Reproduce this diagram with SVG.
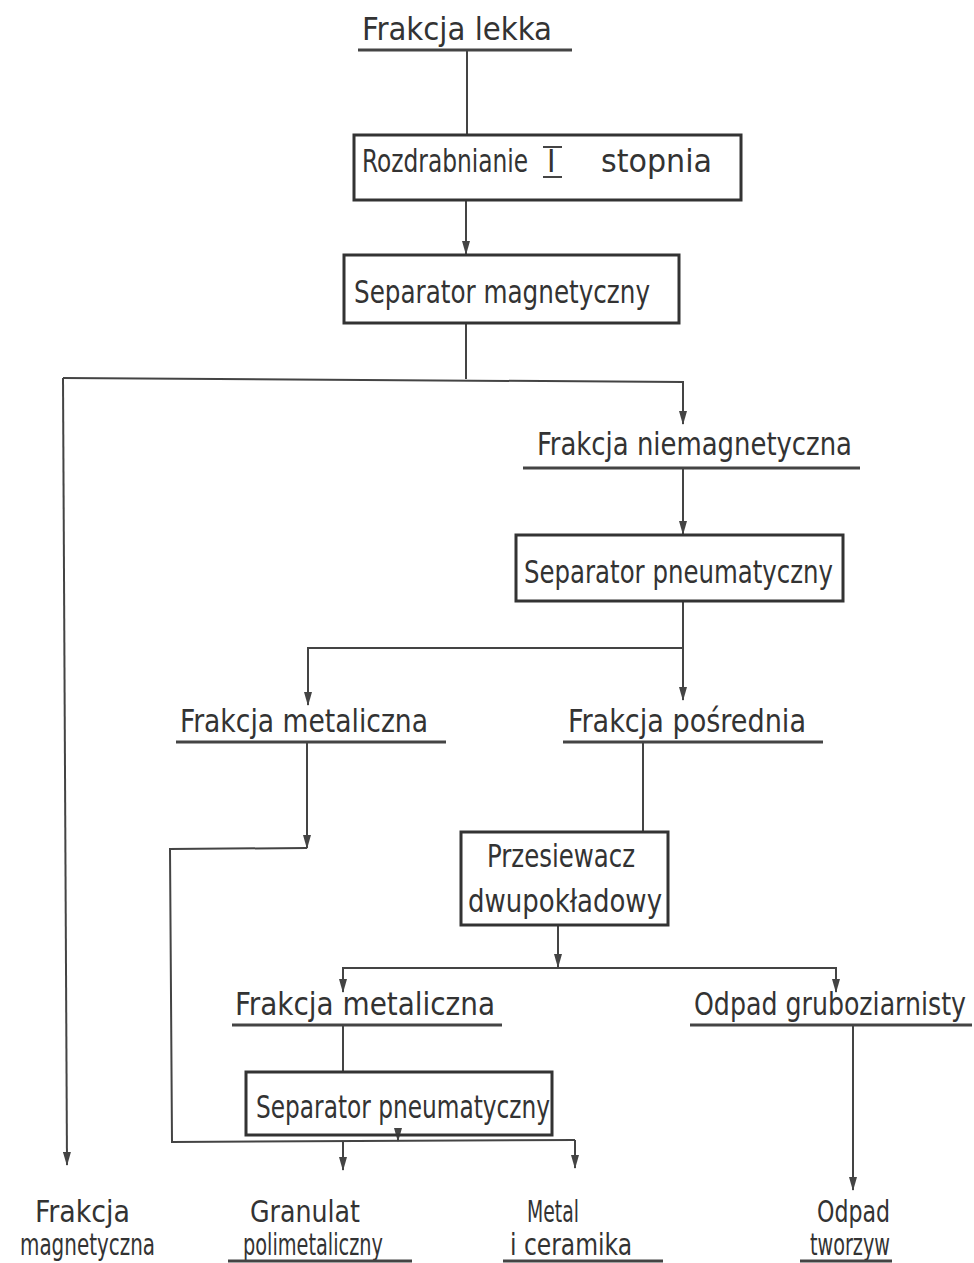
<svg xmlns="http://www.w3.org/2000/svg" width="974" height="1263" viewBox="0 0 974 1263">
<style>
.t{font-family:"DejaVu Sans Condensed","Liberation Sans Narrow","Liberation Sans",sans-serif;font-size:32px;fill:#333}
.s{font-size:30px}
.b{fill:none;stroke:#333;stroke-width:3}
.u{stroke:#444;stroke-width:3}
.c{fill:none;stroke:#444;stroke-width:2}
</style>
<defs>
<marker id="ad" markerWidth="14" markerHeight="8" refX="13" refY="4" orient="auto" markerUnits="userSpaceOnUse">
<path d="M0,0 L14,4 L0,8 Z" fill="#444"/>
</marker>
</defs>
<rect width="974" height="1263" fill="#fff"/>
<g id="connectors">
<line class="c" x1="467" y1="50" x2="467" y2="135"/>
<line class="c" x1="466" y1="200" x2="466" y2="254" marker-end="url(#ad)"/>
<polyline class="c" points="466,323 466,379"/>
<polyline class="c" points="63,378 683,382 683,424" marker-end="url(#ad)"/>
<polyline class="c" points="63,378 67,1165" marker-end="url(#ad)"/>
<line class="c" x1="683" y1="468" x2="683" y2="534" marker-end="url(#ad)"/>
<polyline class="c" points="683,601 683,700" marker-end="url(#ad)"/>
<polyline class="c" points="683,648 308,648 308,705" marker-end="url(#ad)"/>
<line class="c" x1="307" y1="742" x2="307" y2="848" marker-end="url(#ad)"/>
<polyline class="c" points="307,848 170,849 172,1142 575,1140"/>
<line class="c" x1="643" y1="742" x2="643" y2="832"/>
<line class="c" x1="558" y1="925" x2="558" y2="967" marker-end="url(#ad)"/>
<polyline class="c" points="343,990 343,968 836,968 836,990"/>
<line class="c" x1="343" y1="968" x2="343" y2="992" marker-end="url(#ad)"/>
<line class="c" x1="836" y1="968" x2="836" y2="992" marker-end="url(#ad)"/>
<line class="c" x1="343" y1="1025" x2="343" y2="1072"/>
<line class="c" x1="398" y1="1135" x2="398" y2="1141" marker-end="url(#ad)"/>
<line class="c" x1="343" y1="1141" x2="343" y2="1170" marker-end="url(#ad)"/>
<line class="c" x1="575" y1="1140" x2="575" y2="1168" marker-end="url(#ad)"/>
<line class="c" x1="853" y1="1025" x2="853" y2="1190" marker-end="url(#ad)"/>
</g>
<g id="n1"><text class="t" x="362" y="40" textLength="190" lengthAdjust="spacingAndGlyphs">Frakcja lekka</text><line class="u" x1="358" y1="50" x2="572" y2="50"/></g>
<g id="n2"><rect class="b" x="354" y="135" width="387" height="65"/>
<text class="t" transform="translate(362,172) scale(0.78,1)" x="0" y="0" textLength="213" lengthAdjust="spacingAndGlyphs">Rozdrabnianie</text>
<text class="t" x="547" y="172">I</text>
<line class="u" x1="543" y1="147" x2="562" y2="147" style="stroke-width:2"/>
<line class="u" x1="543" y1="177" x2="562" y2="177" style="stroke-width:2"/>
<text class="t" x="601" y="172" textLength="111" lengthAdjust="spacingAndGlyphs">stopnia</text></g>
<g id="n3"><rect class="b" x="344" y="255" width="335" height="68"/><text class="t" x="354" y="303" textLength="296" lengthAdjust="spacingAndGlyphs">Separator magnetyczny</text></g>
<g id="n4"><text class="t" x="537" y="455" textLength="315" lengthAdjust="spacingAndGlyphs">Frakcja niemagnetyczna</text><line class="u" x1="523" y1="468" x2="860" y2="468"/></g>
<g id="n5"><rect class="b" x="516" y="535" width="327" height="66"/><text class="t" x="524" y="583" textLength="309" lengthAdjust="spacingAndGlyphs">Separator pneumatyczny</text></g>
<g id="n6"><text class="t" x="180" y="732" textLength="248" lengthAdjust="spacingAndGlyphs">Frakcja metaliczna</text><line class="u" x1="176" y1="742" x2="446" y2="742"/></g>
<g id="n7"><text class="t" x="568" y="732" textLength="238" lengthAdjust="spacingAndGlyphs">Frakcja pośrednia</text><line class="u" x1="563" y1="742" x2="823" y2="742"/></g>
<g id="n8"><rect class="b" x="461" y="832" width="207" height="93"/>
<text class="t" x="487" y="867" textLength="148" lengthAdjust="spacingAndGlyphs">Przesiewacz</text>
<text class="t" x="468" y="912" textLength="194" lengthAdjust="spacingAndGlyphs">dwupokładowy</text></g>
<g id="n9"><text class="t" x="235" y="1015" textLength="260" lengthAdjust="spacingAndGlyphs">Frakcja metaliczna</text><line class="u" x1="232" y1="1025" x2="502" y2="1025"/></g>
<g id="n10"><text class="t" transform="translate(694,1015) scale(0.8,1)" x="0" y="0" textLength="340" lengthAdjust="spacingAndGlyphs">Odpad gruboziarnisty</text><line class="u" x1="690" y1="1025" x2="972" y2="1025"/></g>
<g id="n11"><rect class="b" x="246" y="1072" width="306" height="63"/><text class="t" x="256" y="1118" textLength="294" lengthAdjust="spacingAndGlyphs">Separator pneumatyczny</text></g>
<g id="n12"><text class="t s" x="35" y="1222" textLength="95" lengthAdjust="spacingAndGlyphs">Frakcja</text><text class="t s" x="20" y="1255" textLength="135" lengthAdjust="spacingAndGlyphs">magnetyczna</text></g>
<g id="n13"><text class="t s" x="250" y="1222" textLength="110" lengthAdjust="spacingAndGlyphs">Granulat</text><text class="t s" x="243" y="1255" textLength="140" lengthAdjust="spacingAndGlyphs">polimetaliczny</text><line class="u" x1="228" y1="1261" x2="412" y2="1261"/></g>
<g id="n14"><text class="t s" x="527" y="1222" textLength="52" lengthAdjust="spacingAndGlyphs">Metal</text><text class="t s" x="510" y="1255" textLength="122" lengthAdjust="spacingAndGlyphs">i ceramika</text><line class="u" x1="503" y1="1261" x2="663" y2="1261"/></g>
<g id="n15"><text class="t s" x="817" y="1222" textLength="73" lengthAdjust="spacingAndGlyphs">Odpad</text><text class="t s" x="810" y="1255" textLength="80" lengthAdjust="spacingAndGlyphs">tworzyw</text><line class="u" x1="800" y1="1261" x2="892" y2="1261"/></g>
</svg>
